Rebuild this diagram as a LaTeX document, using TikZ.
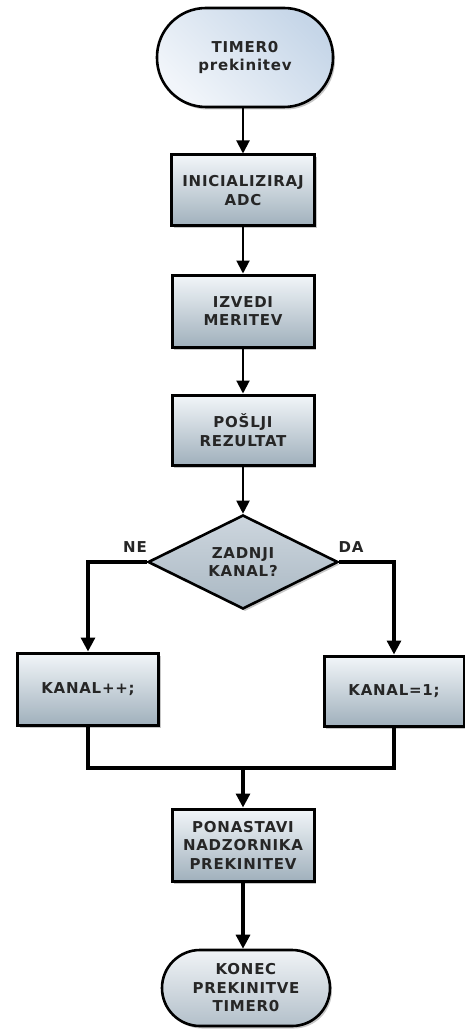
\documentclass[tikz,border=0pt]{standalone}
\usepackage{fontspec}
\setmainfont{DejaVu Sans}[LetterSpace=5]
\usetikzlibrary{arrows.meta,shapes.geometric,shadows}
\definecolor{txt}{HTML}{262626}
\definecolor{boxtop}{HTML}{F2F6F9}
\definecolor{boxbot}{HTML}{A0B0BC}
\definecolor{termtop}{HTML}{F1F5FA}
\definecolor{termbot}{HTML}{C6D6E8}
\definecolor{endtop}{HTML}{F0F3F6}
\definecolor{endbot}{HTML}{B3C0CA}
\definecolor{diatop}{HTML}{CDD6DE}
\definecolor{diabot}{HTML}{AAB8C3}
\tikzset{
  shad/.style={drop shadow={shadow xshift=2pt,shadow yshift=-2.5pt,fill=black,opacity=0.22}},
  lbl/.style={font=\fontsize{15}{18.5}\selectfont\bfseries, text=txt, align=center},
  procbox/.style={lbl, draw=black, line width=3pt, rectangle, inner sep=0pt,
    top color=boxtop, bottom color=boxbot, shad},
  termbox/.style={lbl, draw=black, line width=2.6pt, rectangle, inner sep=0pt, shad},
  decbox/.style={lbl, draw=black, line width=2.6pt, diamond, inner sep=0pt,
    top color=diatop, bottom color=diabot, shad},
  thin/.style={draw=black, line width=2pt, -{Triangle[width=13pt,length=13pt]}},
  thick/.style={draw=black, line width=3.2pt, -{Triangle[width=14pt,length=14pt]}},
  plain/.style={draw=black, line width=3.2pt},
  side/.style={lbl, inner sep=0pt}
}
\begin{document}
\begin{tikzpicture}[x=1pt,y=-1pt]
\useasboundingbox (0,0) rectangle (464,1032);
\node[termbox, minimum width=176pt, minimum height=99pt, rounded corners=49pt,
  left color=termtop, right color=termbot, shading angle=135] (start) at (245,57.5) {TIMER0\\prekinitev};
\node[procbox, minimum width=143pt, minimum height=71pt] (init) at (243,190.5) {INICIALIZIRAJ\\ADC};
\node[procbox, minimum width=142pt, minimum height=72pt] (meas) at (243,311) {IZVEDI\\MERITEV};
\node[procbox, minimum width=142pt, minimum height=70pt] (send) at (243,430) {POŠLJI\\REZULTAT};
\node[decbox, minimum width=190pt, minimum height=94pt, aspect=2] (last) at (243,562) {ZADNJI\\KANAL?};
\node[procbox, minimum width=141pt, minimum height=72pt] (inc) at (88,689) {KANAL++;};
\node[procbox, minimum width=140pt, minimum height=70pt] (one) at (394,691) {KANAL=1;};
\node[procbox, minimum width=142pt, minimum height=72pt] (reset) at (243,845) {PONASTAVI\\NADZORNIKA\\PREKINITEV};
\node[termbox, minimum width=168pt, minimum height=76pt, rounded corners=38pt,
  top color=endtop, bottom color=endbot] (stop) at (246,988) {KONEC\\PREKINITVE\\TIMER0};
\node[side] (ne) at (135,547) {NE};
\node[side] (da) at (351,547) {DA};
\coordinate (merge) at (243,768);
\draw[thin] (start.south -| init.north) -- (init.north);
\draw[thin] (init) -- (meas);
\draw[thin] (meas) -- (send);
\draw[thin] (send) -- (last);
\draw[thick] (last.west) -| (inc.north);
\draw[thick] (last.east) -| (one.north);
\draw[plain] (inc.south) |- (merge) -| (one.south);
\draw[thick] (merge) -- (reset.north);
\draw[thick] (reset.south) -- (reset.south |- stop.north);
\end{tikzpicture}
\end{document}
